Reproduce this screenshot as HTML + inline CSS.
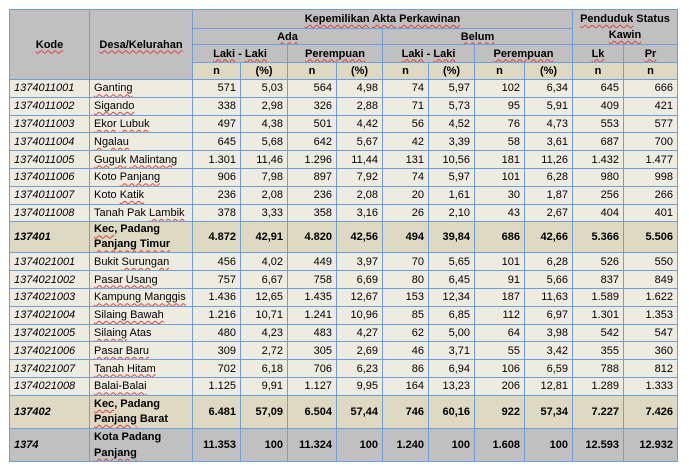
<!DOCTYPE html>
<html><head><meta charset="utf-8"><style>
html,body{margin:0;padding:0;background:#fff;width:689px;height:476px;overflow:hidden}
table{position:absolute;left:9px;top:9px;border-collapse:collapse;table-layout:fixed;font-family:"Liberation Sans",sans-serif;font-size:11px;color:#000}
td{border:1px solid #6f9fd8;padding:0 4px;white-space:nowrap;overflow:hidden;line-height:12px}
.h td{background:#c0c0c0;font-weight:bold;text-align:center}
.u{text-decoration:underline wavy #e04040;text-decoration-thickness:1px;text-underline-offset:2px}
tr.n td{background:#ddd9c3;font-weight:bold;text-align:center}
tr.d td{background:#eeece1;text-align:right;height:16.8px}
tr.d td:nth-child(1){text-align:left;font-style:italic}
tr.d td:nth-child(2){text-align:left}
tr.s td{background:#ddd9c3;font-weight:bold;text-align:right}
tr.s td:nth-child(1){text-align:left;font-style:italic}
tr.s td:nth-child(2){text-align:left;white-space:normal;line-height:15px}
tr.t td{background:#c0c0c0;font-weight:bold;text-align:right}
tr.t td:nth-child(1){text-align:left;font-style:italic}
tr.t td:nth-child(2){text-align:left;white-space:normal;line-height:16px}
</style></head><body>
<table>
<colgroup><col style="width:80px"><col style="width:103px"><col style="width:48px"><col style="width:47px"><col style="width:49px"><col style="width:46px"><col style="width:46px"><col style="width:46px"><col style="width:50px"><col style="width:48px"><col style="width:51px"><col style="width:54px"></colgroup>
<tr class="h" style="height:19px"><td rowspan="4"><span class="u">Kode</span></td><td rowspan="4"><span class="u">Desa/Kelurahan</span></td><td colspan="8"><span class="u">Kepemilikan</span> <span class="u">Akta</span> <span class="u">Perkawinan</span></td><td colspan="2" rowspan="2" style="white-space:normal;line-height:16px"><span class="u">Penduduk</span> Status <span class="u">Kawin</span></td></tr>
<tr class="h" style="height:16px"><td colspan="4"><span class="u">Ada</span></td><td colspan="4"><span class="u">Belum</span></td></tr>
<tr class="h" style="height:18px"><td colspan="2"><span class="u">Laki</span> - <span class="u">Laki</span></td><td colspan="2"><span class="u">Perempuan</span></td><td colspan="2"><span class="u">Laki</span> - <span class="u">Laki</span></td><td colspan="2"><span class="u">Perempuan</span></td><td><span class="u">Lk</span></td><td><span class="u">Pr</span></td></tr>
<tr class="n" style="height:17px"><td>n</td><td>(%)</td><td>n</td><td>(%)</td><td>n</td><td>(%)</td><td>n</td><td>(%)</td><td>n</td><td>n</td></tr>
<tr class="d"><td>1374011001</td><td><span class="u">Ganting</span></td><td>571</td><td>5,03</td><td>564</td><td>4,98</td><td>74</td><td>5,97</td><td>102</td><td>6,34</td><td>645</td><td>666</td></tr>
<tr class="d"><td>1374011002</td><td><span class="u">Sigando</span></td><td>338</td><td>2,98</td><td>326</td><td>2,88</td><td>71</td><td>5,73</td><td>95</td><td>5,91</td><td>409</td><td>421</td></tr>
<tr class="d"><td>1374011003</td><td><span class="u">Ekor</span> <span class="u">Lubuk</span></td><td>497</td><td>4,38</td><td>501</td><td>4,42</td><td>56</td><td>4,52</td><td>76</td><td>4,73</td><td>553</td><td>577</td></tr>
<tr class="d"><td>1374011004</td><td><span class="u">Ngalau</span></td><td>645</td><td>5,68</td><td>642</td><td>5,67</td><td>42</td><td>3,39</td><td>58</td><td>3,61</td><td>687</td><td>700</td></tr>
<tr class="d"><td>1374011005</td><td><span class="u">Guguk</span> <span class="u">Malintang</span></td><td>1.301</td><td>11,46</td><td>1.296</td><td>11,44</td><td>131</td><td>10,56</td><td>181</td><td>11,26</td><td>1.432</td><td>1.477</td></tr>
<tr class="d"><td>1374011006</td><td>Koto <span class="u">Panjang</span></td><td>906</td><td>7,98</td><td>897</td><td>7,92</td><td>74</td><td>5,97</td><td>101</td><td>6,28</td><td>980</td><td>998</td></tr>
<tr class="d"><td>1374011007</td><td>Koto <span class="u">Katik</span></td><td>236</td><td>2,08</td><td>236</td><td>2,08</td><td>20</td><td>1,61</td><td>30</td><td>1,87</td><td>256</td><td>266</td></tr>
<tr class="d"><td>1374011008</td><td>Tanah Pak <span class="u">Lambik</span></td><td>378</td><td>3,33</td><td>358</td><td>3,16</td><td>26</td><td>2,10</td><td>43</td><td>2,67</td><td>404</td><td>401</td></tr>
<tr class="s" style="height:31px"><td>137401</td><td><span class="u">Kec</span>, Padang <span class="u">Panjang Timur</span></td><td>4.872</td><td>42,91</td><td>4.820</td><td>42,56</td><td>494</td><td>39,84</td><td>686</td><td>42,66</td><td>5.366</td><td>5.506</td></tr>
<tr class="d"><td>1374021001</td><td>Bukit <span class="u">Surungan</span></td><td>456</td><td>4,02</td><td>449</td><td>3,97</td><td>70</td><td>5,65</td><td>101</td><td>6,28</td><td>526</td><td>550</td></tr>
<tr class="d"><td>1374021002</td><td><span class="u">Pasar Usang</span></td><td>757</td><td>6,67</td><td>758</td><td>6,69</td><td>80</td><td>6,45</td><td>91</td><td>5,66</td><td>837</td><td>849</td></tr>
<tr class="d"><td>1374021003</td><td><span class="u">Kampung Manggis</span></td><td>1.436</td><td>12,65</td><td>1.435</td><td>12,67</td><td>153</td><td>12,34</td><td>187</td><td>11,63</td><td>1.589</td><td>1.622</td></tr>
<tr class="d"><td>1374021004</td><td><span class="u">Silaing Bawah</span></td><td>1.216</td><td>10,71</td><td>1.241</td><td>10,96</td><td>85</td><td>6,85</td><td>112</td><td>6,97</td><td>1.301</td><td>1.353</td></tr>
<tr class="d"><td>1374021005</td><td><span class="u">Silaing</span> Atas</td><td>480</td><td>4,23</td><td>483</td><td>4,27</td><td>62</td><td>5,00</td><td>64</td><td>3,98</td><td>542</td><td>547</td></tr>
<tr class="d"><td>1374021006</td><td><span class="u">Pasar Baru</span></td><td>309</td><td>2,72</td><td>305</td><td>2,69</td><td>46</td><td>3,71</td><td>55</td><td>3,42</td><td>355</td><td>360</td></tr>
<tr class="d"><td>1374021007</td><td><span class="u">Tanah Hitam</span></td><td>702</td><td>6,18</td><td>706</td><td>6,23</td><td>86</td><td>6,94</td><td>106</td><td>6,59</td><td>788</td><td>812</td></tr>
<tr class="d"><td>1374021008</td><td><span class="u">Balai-Balai</span></td><td>1.125</td><td>9,91</td><td>1.127</td><td>9,95</td><td>164</td><td>13,23</td><td>206</td><td>12,81</td><td>1.289</td><td>1.333</td></tr>
<tr class="s" style="height:33px"><td>137402</td><td><span class="u">Kec</span>, Padang <span class="u">Panjang</span> Barat</td><td>6.481</td><td>57,09</td><td>6.504</td><td>57,44</td><td>746</td><td>60,16</td><td>922</td><td>57,34</td><td>7.227</td><td>7.426</td></tr>
<tr class="t" style="height:31px"><td>1374</td><td>Kota Padang <span class="u">Panjang</span></td><td>11.353</td><td>100</td><td>11.324</td><td>100</td><td>1.240</td><td>100</td><td>1.608</td><td>100</td><td>12.593</td><td>12.932</td></tr>
</table>
</body></html>
